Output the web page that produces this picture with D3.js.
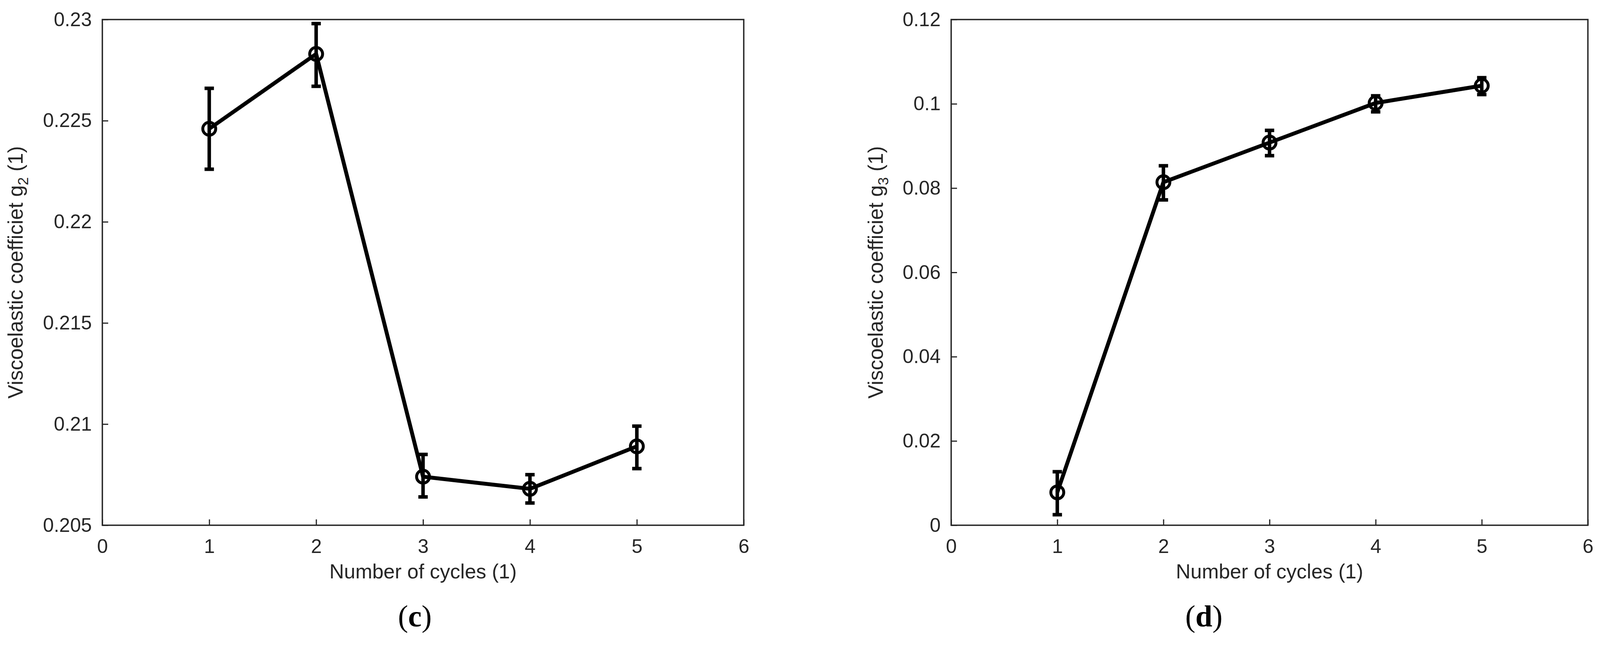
<!DOCTYPE html>
<html>
<head>
<meta charset="utf-8">
<script src="https://cdn.jsdelivr.net/npm/d3@7"></script>
<style>
  html, body { margin: 0; padding: 0; background: #fff; overflow: hidden; }
  svg { display: block; }
</style>
</head>
<body>
<script>
// ---- data ----
const cycles = [1, 2, 3, 4, 5];

const g2Mean  = [0.2246, 0.2283, 0.2074, 0.2068, 0.2089];
const g2Upper = [0.2266, 0.2298, 0.2085, 0.2075, 0.2099];
const g2Lower = [0.2226, 0.2267, 0.2064, 0.2061, 0.2078];

const g3Mean  = [0.0078, 0.0814, 0.0908, 0.1002, 0.1043];
const g3Upper = [0.0127, 0.0853, 0.0937, 0.1019, 0.1062];
const g3Lower = [0.0025, 0.0772, 0.0877, 0.0981, 0.1022];

const xTicks  = [0, 1, 2, 3, 4, 5, 6];
const g2Ticks = [0.205, 0.21, 0.215, 0.22, 0.225, 0.23];
const g3Ticks = [0, 0.02, 0.04, 0.06, 0.08, 0.1, 0.12];

const xLabel = "Number of cycles (1)";
const panels = [
  { sub: "2", caption: "c", mean: g2Mean, upper: g2Upper, lower: g2Lower,
    ticks: g2Ticks, domain: [0.205, 0.23] },
  { sub: "3", caption: "d", mean: g3Mean, upper: g3Upper, lower: g3Lower,
    ticks: g3Ticks, domain: [0, 0.12] }
];

// ---- layout ----
const W = 4125, H = 1653;
const layout = [
  { left: 262, right: 1904, ylabX: 58, capX: 1062 },
  { left: 2435, right: 4065, ylabX: 2260, capX: 3082 }
];
const plotTop = 50, plotBottom = 1344;
const axisColor = "#262626";
const sans = "'Liberation Sans', Arial, Helvetica, sans-serif";

const svg = d3.select("body").append("svg")
  .attr("width", W).attr("height", H)
  .attr("viewBox", `0 0 ${W} ${H}`);

panels.forEach((p, i) => {
  const L = layout[i];
  const x = d3.scaleLinear().domain([0, 6]).range([L.left, L.right]);
  const y = d3.scaleLinear().domain(p.domain).range([plotBottom, plotTop]);
  const g = svg.append("g");

  // box
  g.append("rect")
    .attr("x", L.left).attr("y", plotTop)
    .attr("width", L.right - L.left).attr("height", plotBottom - plotTop)
    .attr("fill", "none").attr("stroke", axisColor).attr("stroke-width", 3.5);

  // x axis
  const xa = g.append("g").attr("transform", `translate(0,${plotBottom})`)
    .call(d3.axisBottom(x).tickValues(xTicks).tickFormat(d3.format("d"))
      .tickSizeInner(-15).tickSizeOuter(0).tickPadding(35));
  // y axis
  const ya = g.append("g").attr("transform", `translate(${L.left},0)`)
    .call(d3.axisLeft(y).tickValues(p.ticks).tickFormat(d => String(d))
      .tickSizeInner(-15).tickSizeOuter(0).tickPadding(27));

  [xa, ya].forEach(a => {
    a.select(".domain").remove();
    a.selectAll(".tick line").attr("stroke", axisColor).attr("stroke-width", 3);
    a.selectAll(".tick text").attr("fill", axisColor)
      .style("font-family", sans).style("font-size", "50px");
  });

  // x label
  g.append("text")
    .attr("x", (L.left + L.right) / 2).attr("y", 1480)
    .attr("text-anchor", "middle").attr("fill", axisColor)
    .style("font-family", sans).style("font-size", "52px")
    .text(xLabel);

  // y label
  const yl = g.append("text")
    .attr("transform", `translate(${L.ylabX},${(plotTop + plotBottom) / 2}) rotate(-90)`)
    .attr("text-anchor", "middle").attr("fill", axisColor)
    .style("font-family", sans).style("font-size", "53px");
  yl.append("tspan").text("Viscoelastic coefficiet g");
  yl.append("tspan").attr("dy", 14).style("font-size", "37px").text(p.sub);
  yl.append("tspan").attr("dy", -14).text("\u00A0(1)");

  // data
  const pts = cycles.map((c, k) => ({ c, m: p.mean[k], u: p.upper[k], l: p.lower[k] }));

  g.append("path").datum(pts)
    .attr("d", d3.line().x(d => x(d.c)).y(d => y(d.m)))
    .attr("fill", "none").attr("stroke", "#000").attr("stroke-width", 10)
    .attr("stroke-linejoin", "round");

  const eb = g.append("g").attr("stroke", "#000").attr("stroke-width", 9);
  eb.selectAll("line.v").data(pts).join("line").attr("class", "v")
    .attr("x1", d => x(d.c)).attr("x2", d => x(d.c))
    .attr("y1", d => y(d.u)).attr("y2", d => y(d.l));
  eb.selectAll("line.cu").data(pts).join("line").attr("class", "cu")
    .attr("x1", d => x(d.c) - 12).attr("x2", d => x(d.c) + 12)
    .attr("y1", d => y(d.u)).attr("y2", d => y(d.u));
  eb.selectAll("line.cl").data(pts).join("line").attr("class", "cl")
    .attr("x1", d => x(d.c) - 12).attr("x2", d => x(d.c) + 12)
    .attr("y1", d => y(d.l)).attr("y2", d => y(d.l));

  g.selectAll("circle.m").data(pts).join("circle").attr("class", "m")
    .attr("cx", d => x(d.c)).attr("cy", d => y(d.m)).attr("r", 16.5)
    .attr("fill", "none").attr("stroke", "#000").attr("stroke-width", 7.5);

  // caption
  const cap = svg.append("text")
    .attr("x", L.capX).attr("y", 1603).attr("text-anchor", "middle")
    .attr("fill", "#000")
    .style("font-family", "'Liberation Serif', 'DejaVu Serif', serif")
    .style("font-size", "78px");
  cap.append("tspan").text("(");
  cap.append("tspan").style("font-weight", "bold").text(p.caption);
  cap.append("tspan").text(")");
});
</script>
</body>
</html>
